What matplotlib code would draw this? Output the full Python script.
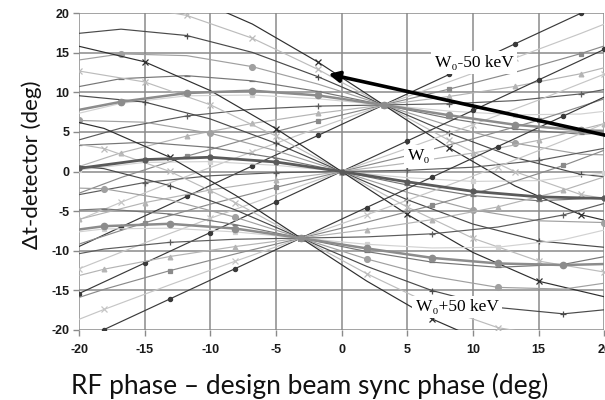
import matplotlib
matplotlib.use("Agg")
import matplotlib.pyplot as plt

# ---------------- data ----------------
x_ticks = [-20, -15, -10, -5, 0, 5, 10, 15, 20]
y_ticks = [-20, -15, -10, -5, 0, 5, 10, 15, 20]

# sample positions along RF phase for each energy family
x_minus50 = [-21.8, -16.8, -11.8, -6.8, -1.8, 3.2, 8.2, 13.2, 18.2, 23.2]
x_nominal = [-20, -15, -10, -5, 0, 5, 10, 15, 20]
x_plus50 = [-23.1, -18.1, -13.1, -8.1, -3.1, 1.9, 6.9, 11.9, 16.9, 21.9]

# W0-50 keV family (focus near 3.2, 8.4)
curves_minus50 = [
    [-10.85, -7.00, -3.15, 0.70, 4.55, 8.4, 12.25, 16.10, 19.95, 23.80],
    [-7.35, -3.88, -0.61, 2.49, 5.48, 8.4, 11.32, 14.31, 17.41, 20.68],
    [-3.85, -0.76, 1.93, 4.28, 6.40, 8.4, 10.40, 12.52, 14.87, 17.56],
    [-0.35, 2.36, 4.47, 6.07, 7.33, 8.4, 9.47, 10.73, 12.33, 14.44],
    [3.15, 5.48, 7.01, 7.86, 8.25, 8.4, 8.55, 8.94, 9.79, 11.32],
    [6.65, 8.60, 9.55, 9.65, 9.18, 8.4, 7.62, 7.15, 7.25, 8.20],
    [10.15, 11.72, 12.09, 11.44, 10.10, 8.4, 6.70, 5.36, 4.71, 5.08],
    [13.64, 14.84, 14.62, 13.23, 11.03, 8.4, 5.77, 3.57, 2.18, 1.96],
    [17.14, 17.96, 17.16, 15.03, 11.96, 8.4, 4.84, 1.77, -0.36, -1.16],
    [20.64, 21.08, 19.70, 16.82, 12.88, 8.4, 3.92, -0.02, -2.90, -4.28],
    [24.14, 24.20, 22.24, 18.61, 13.81, 8.4, 2.99, -1.81, -5.44, -7.40],
]
# W0 family (focus at 0, 0)
curves_nominal = [
    [-15.40, -11.55, -7.70, -3.85, 0, 3.85, 7.70, 11.55, 15.40],
    [-12.28, -9.01, -5.91, -2.92, 0, 2.92, 5.91, 9.01, 12.28],
    [-9.16, -6.47, -4.12, -2.00, 0, 2.00, 4.12, 6.47, 9.16],
    [-6.04, -3.93, -2.33, -1.07, 0, 1.07, 2.33, 3.93, 6.04],
    [-2.92, -1.39, -0.54, -0.15, 0, 0.15, 0.54, 1.39, 2.92],
    [0.20, 1.15, 1.25, 0.78, 0, -0.78, -1.25, -1.15, -0.20],
    [3.32, 3.69, 3.04, 1.70, 0, -1.70, -3.04, -3.69, -3.32],
    [6.44, 6.22, 4.83, 2.63, 0, -2.63, -4.83, -6.22, -6.44],
    [9.56, 8.76, 6.63, 3.56, 0, -3.56, -6.63, -8.76, -9.56],
    [12.68, 11.30, 8.42, 4.48, 0, -4.48, -8.42, -11.30, -12.68],
    [15.80, 13.84, 10.21, 5.41, 0, -5.41, -10.21, -13.84, -15.80],
]
# W0+50 keV family (focus near -3.1, -8.4)
curves_plus50 = [
    [-23.80, -19.95, -16.10, -12.25, -8.4, -4.55, -0.70, 3.15, 7.00, 10.85],
    [-20.68, -17.41, -14.31, -11.32, -8.4, -5.48, -2.49, 0.61, 3.88, 7.35],
    [-17.56, -14.87, -12.52, -10.40, -8.4, -6.40, -4.28, -1.93, 0.76, 3.85],
    [-14.44, -12.33, -10.73, -9.47, -8.4, -7.33, -6.07, -4.47, -2.36, 0.35],
    [-11.32, -9.79, -8.94, -8.55, -8.4, -8.25, -7.86, -7.01, -5.48, -3.15],
    [-8.20, -7.25, -7.15, -7.62, -8.4, -9.18, -9.65, -9.55, -8.60, -6.65],
    [-5.08, -4.71, -5.36, -6.70, -8.4, -10.10, -11.44, -12.09, -11.72, -10.15],
    [-1.96, -2.18, -3.57, -5.77, -8.4, -11.03, -13.23, -14.62, -14.84, -13.64],
    [1.16, 0.36, -1.77, -4.84, -8.4, -11.96, -15.03, -17.16, -17.96, -17.14],
    [4.28, 2.90, 0.02, -3.92, -8.4, -12.88, -16.82, -19.70, -21.08, -20.64],
    [7.40, 5.44, 1.81, -2.98, -8.4, -13.81, -18.61, -22.24, -24.20, -24.14],
]
# highlighted (thick) curve of each family
thick_minus50 = [7.2, 8.8, 9.9, 10.2, 9.6, 8.4, 7.1, 5.9, 5.2, 5.0]
thick_nominal = [0.4, 1.5, 1.8, 1.2, 0, -1.3, -2.5, -3.2, -3.4]
thick_plus50 = [-8.0, -6.9, -6.6, -7.2, -8.4, -9.7, -10.9, -11.6, -11.8, -11.6]

label_minus50 = "W\u2080-50 keV"
label_nominal = "W\u2080"
label_plus50 = "W\u2080+50 keV"
x_label = "RF phase \u2013 design beam sync phase (deg)"
y_label = "\u0394t-detector (deg)"

# ---------------- styles ----------------
styles = [
    ("#3a3a3a", "o", 3.0),
    ("#c6c6c6", "x", 4.0),
    ("#8a8a8a", "s", 3.2),
    ("#b4b4b4", "^", 3.4),
    ("#5c5c5c", "+", 4.5),
    ("#d2d2d2", "s", 3.2),
    ("#767676", "_", 4.0),
    ("#a0a0a0", "o", 4.2),
    ("#4a4a4a", "+", 4.5),
    ("#bcbcbc", "x", 4.0),
    ("#2e2e2e", "x", 4.0),
]

fig = plt.figure(figsize=(6.05, 4.0), dpi=100)
ax = fig.add_axes([0.1306, 0.175, 0.868, 0.7925])
ax.set_xlim(-20, 20)
ax.set_ylim(-20, 20)

for xs, fam, off in ((x_minus50, curves_minus50, 0),
                     (x_nominal, curves_nominal, 1),
                     (x_plus50, curves_plus50, 0)):
    for i, ys in enumerate(fam):
        col, mk, ms = styles[i]
        ax.plot(xs, ys, color=col, lw=0.85, marker=mk, ms=ms, mew=0.9,
                markevery=((i + off) % 2, 2) if i % 3 else 1, zorder=2)

ax.plot(x_minus50, thick_minus50, color="#8c8c8c", lw=1.8, marker="o", ms=4.5, zorder=2)
ax.plot(x_plus50, thick_plus50, color="#8c8c8c", lw=1.8, marker="o", ms=4.5, zorder=2)
ax.plot(x_nominal, thick_nominal, color="#5a5a5a", lw=2.0, marker="o", ms=3.5, zorder=2)

ax.set_xticks(x_ticks)
ax.set_yticks(y_ticks)
ax.set_xticklabels([str(v) for v in x_ticks])
ax.set_yticklabels([str(v) for v in y_ticks])
ax.grid(True, color="#8a8a8a", lw=1.1, zorder=1)
ax.set_axisbelow(True)
for s in ax.spines.values():
    s.set_visible(False)
ax.tick_params(axis="both", length=4, color="#8a8a8a", width=1.0)
ax.tick_params(axis="x", pad=6)
ax.tick_params(axis="y", pad=3)
for lab in ax.get_xticklabels() + ax.get_yticklabels():
    lab.set_fontfamily(["Liberation Sans", "DejaVu Sans"])
    lab.set_fontweight("bold")
    lab.set_fontsize(9)
    lab.set_color("#1a1a1a")

serif = ["Liberation Serif", "DejaVu Serif"]
box = dict(facecolor="white", edgecolor="none", pad=2.5)
ax.text(10.1, 13.7, label_minus50, family=serif, fontsize=12.5, ha="center", va="center",
        bbox=box, zorder=5)
ax.text(5.9, 1.9, label_nominal, family=serif, fontsize=12.5, ha="center", va="center",
        bbox=box, zorder=5)
ax.text(8.8, -17.1, label_plus50, family=serif, fontsize=12.5, ha="center", va="center",
        bbox=box, zorder=5)

ax.annotate("", xy=(-1.0, 12.3), xytext=(20.3, 4.5),
            arrowprops=dict(arrowstyle="-|>", color="black", lw=2.6, mutation_scale=16,
                            shrinkA=0, shrinkB=0),
            annotation_clip=False, zorder=6)

fig.text(0.512, 0.016, x_label, family=["Lato", "DejaVu Sans"], fontsize=19,
         ha="center", va="baseline", color="#111111")
fig.text(0.052, 0.5875, y_label, family=["Lato", "DejaVu Sans"], fontsize=16,
         ha="center", va="center", rotation=90, color="#111111")

fig.savefig("out.png", dpi=100)
